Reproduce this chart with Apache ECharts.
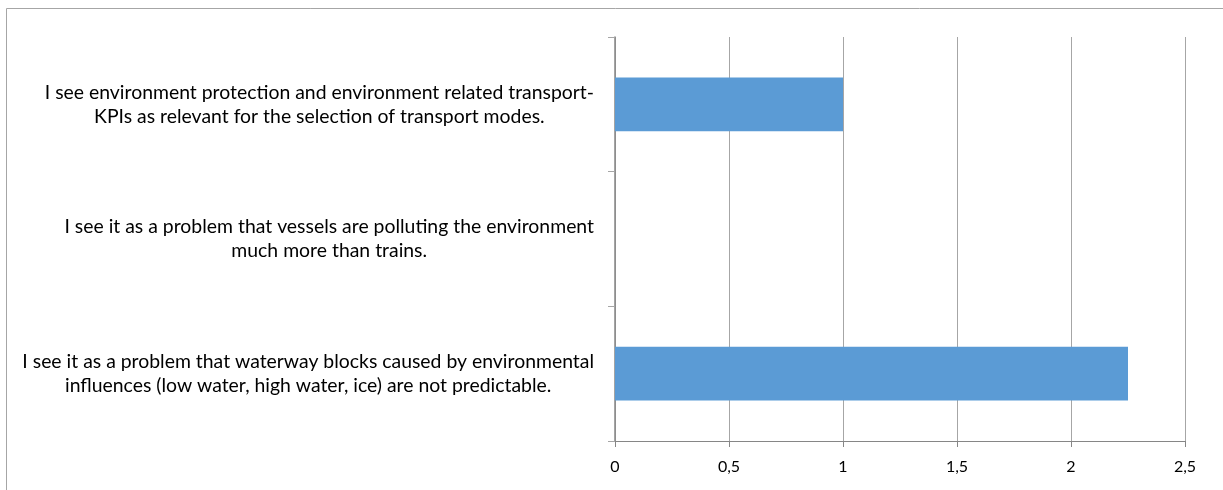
<!DOCTYPE html>
<html>
<head>
<meta charset="utf-8">
<script src="https://cdn.jsdelivr.net/npm/echarts@6/dist/echarts.min.js"></script>
<style>
  html, body { margin: 0; padding: 0; background: #fff; }
  #chart { width: 1223px; height: 490px; }
</style>
</head>
<body>
<div id="chart"></div>
<script>
// statements, top to bottom as shown
const statements = [
  'I see environment protection and environment related transport-\nKPIs as relevant for the selection of transport modes.',
  'I see it as a problem that vessels are polluting the environment\nmuch more than trains.',
  'I see it as a problem that waterway blocks caused by environmental\ninfluences (low water, high water, ice) are not predictable.'
];
const scores = [1, 0, 2.25];

const axisGray = '#868686';
const gridGray = '#a6a6a6';
const labelFont = { color: '#000', fontFamily: 'Lato', fontSize: 19.4, lineHeight: 24 };

const chart = echarts.init(document.getElementById('chart'));
chart.setOption({
  animation: false,
  backgroundColor: '#fff',
  graphic: [{
    type: 'rect',
    shape: { x: 6.5, y: 8.5, width: 1240, height: 500 },
    style: { fill: 'none', stroke: '#a6a6a6', lineWidth: 1 },
    silent: true
  }],
  grid: { left: 615, right: 38, top: 37, bottom: 49 },
  xAxis: {
    type: 'value',
    min: 0,
    max: 2.5,
    interval: 0.5,
    axisLine: { show: true, lineStyle: { color: axisGray, width: 1 } },
    axisTick: { show: true, length: 6, lineStyle: { color: axisGray } },
    splitLine: { show: true, lineStyle: { color: gridGray, width: 1 } },
    axisLabel: {
      color: '#000',
      fontFamily: 'Lato',
      fontSize: 16,
      margin: 18,
      formatter: v => String(v).replace('.', ',')
    }
  },
  yAxis: {
    type: 'category',
    inverse: true,
    data: statements,
    axisLine: { show: true, lineStyle: { color: axisGray, width: 1.5 } },
    axisTick: { show: true, length: 7, lineStyle: { color: gridGray } },
    axisLabel: Object.assign({}, labelFont, {
      align: 'right',
      margin: 21,
      // block right-aligned, lines centred inside it
      formatter: v => v.split('\n').map(l => '{c|' + l + '}').join('\n'),
      rich: { c: Object.assign({ align: 'center' }, labelFont) }
    })
  },
  series: [{
    type: 'bar',
    data: scores,
    barWidth: '40%',
    itemStyle: { color: '#5b9bd5' }
  }]
});
</script>
</body>
</html>
